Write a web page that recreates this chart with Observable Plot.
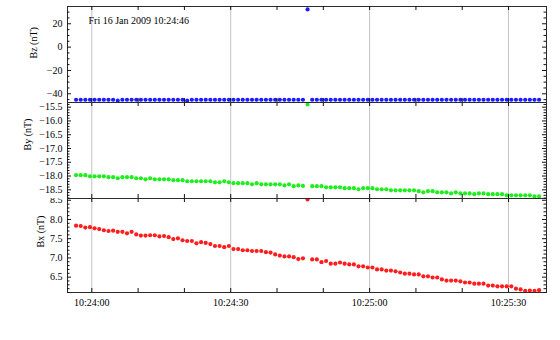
<!DOCTYPE html>
<html><head><meta charset="utf-8">
<script src="https://cdn.jsdelivr.net/npm/d3@7"></script>
<script src="https://cdn.jsdelivr.net/npm/@observablehq/plot@0.6"></script>
<style>
html,body{margin:0;padding:0;background:#fff;}
#chart{position:relative;width:560px;height:340px;overflow:hidden;}
#chart svg{position:absolute;left:0;overflow:visible;}
</style></head><body><div id="chart"></div>
<script>
const title = "Fri 16 Jan 2009 10:24:46";
const dateStr = "2009-01-16";
const startTime = "10:23:56.600";
const xDomainTimes = ["10:23:54.750", "10:25:38.200"];
const xMajorTicks = ["10:24:00", "10:24:30", "10:25:00", "10:25:30"];
const xMinorTicks = ["10:24:10", "10:24:20", "10:24:40", "10:24:50", "10:25:10", "10:25:20"];

const bz = [
-45.1,-45.1,-45.1,-45.1,-45.1,-45.1,-45.1,-45.1,-45.1,-45.9,
-45.1,-45.1,-45.1,-45.1,-45.1,-45.1,-45.1,-45.1,-45.1,-45.1,
-45.1,-45.1,-45.1,-45.1,-45.9,-45.1,-45.1,-45.1,-45.1,-45.1,
-45.1,-45.1,-45.1,-45.1,-45.1,-45.1,-45.1,-45.1,-45.1,-45.1,
-45.1,-45.1,-45.1,-45.1,-45.1,-45.1,-45.1,-45.1,-45.1,-45.1,
32.3,
-45.1,-45.1,-45.1,-45.1,-45.1,-45.1,-45.1,-45.1,-45.1,-45.1,
-45.1,-45.1,-45.1,-45.1,-45.1,-45.1,-45.1,-45.1,-45.1,-45.1,
-45.1,-45.1,-45.1,-45.1,-45.1,-45.1,-45.1,-45.1,-45.1,-45.1,
-45.1,-45.1,-45.1,-45.1,-45.1,-45.1,-45.1,-45.1,-45.1,-45.1,
-45.1,-45.1,-45.1,-45.1,-45.1,-45.1,-45.1,-45.1,-45.1,-45.1
];
const by = [
-17.97,-17.97,-17.97,-18.01,-18.01,-18.01,-18.01,-18.04,-18.04,-18.08,
-18.04,-18.04,-18.04,-18.08,-18.08,-18.12,-18.08,-18.12,-18.12,-18.12,
-18.12,-18.15,-18.15,-18.15,-18.19,-18.19,-18.19,-18.19,-18.19,-18.19,
-18.23,-18.23,-18.19,-18.23,-18.26,-18.26,-18.26,-18.26,-18.30,-18.26,
-18.30,-18.30,-18.30,-18.30,-18.30,-18.34,-18.30,-18.37,-18.34,-18.36,
-15.40,
-18.37,-18.37,-18.37,-18.41,-18.41,-18.41,-18.41,-18.44,-18.44,-18.44,
-18.48,-18.44,-18.44,-18.44,-18.48,-18.48,-18.48,-18.52,-18.52,-18.52,
-18.52,-18.52,-18.52,-18.55,-18.59,-18.55,-18.55,-18.59,-18.59,-18.59,
-18.63,-18.59,-18.63,-18.63,-18.63,-18.66,-18.63,-18.63,-18.66,-18.66,
-18.66,-18.66,-18.70,-18.70,-18.70,-18.70,-18.70,-18.70,-18.74,-18.74
];
const bx = [
7.84,7.83,7.79,7.80,7.77,7.75,7.72,7.70,7.71,7.68,
7.68,7.64,7.68,7.61,7.58,7.58,7.59,7.59,7.56,7.57,
7.54,7.49,7.51,7.46,7.44,7.44,7.38,7.41,7.39,7.36,
7.31,7.31,7.28,7.31,7.23,7.23,7.20,7.20,7.18,7.18,
7.18,7.15,7.14,7.09,7.06,7.04,7.04,7.02,6.97,6.99,
8.52,
6.96,6.96,6.89,6.92,6.85,6.85,6.88,6.85,6.83,6.83,
6.78,6.78,6.75,6.75,6.70,6.70,6.67,6.67,6.65,6.62,
6.59,6.59,6.57,6.57,6.52,6.52,6.49,6.49,6.44,6.41,
6.41,6.41,6.39,6.36,6.36,6.33,6.33,6.33,6.28,6.28,
6.26,6.26,6.26,6.26,6.20,6.18,6.14,6.15,6.14,6.16
];

const bzTicks = [-40, -20, 0, 20];
const byTicks = [-18.5, -18.0, -17.5, -17.0, -16.5, -16.0, -15.5];
const bxTicks = [6.5, 7.0, 7.5, 8.0, 8.5];
const bzDomain = [-47.46, 34.8];
const byDomain = [-18.816, -15.33];
const bxDomain = [6.10, 8.546];

const parseT = s => new Date(dateStr + "T" + s + "Z");
const t0 = parseT(startTime);
const times = bz.map((_, i) => new Date(+t0 + i * 1000));
const xMajor = xMajorTicks.map(parseT);
const xMinor = xMinorTicks.map(parseT);
const xDomain = xDomainTimes.map(parseT);

const minorOf = (domain, step, majors) =>
  d3.range(Math.ceil(domain[0] / step), Math.floor(domain[1] / step) + 1)
    .map(i => +(i * step).toFixed(4))
    .filter(v => !majors.some(m => Math.abs(m - v) < 1e-6));

const W = 560, ML = 67, MR = 14;
const PW = W - ML - MR;

function panel(o) {
  const H = o.height - o.marginTop - o.marginBottom;
  const data = o.values.map((v, i) => ({t: times[i], v}));
  const allX = xMajor.concat(xMinor);
  const minors = minorOf(o.domain, o.minorStep, o.major);
  const marks = [
    Plot.ruleX(xMajor, {x: d => d, stroke: "#c4c4c4", strokeWidth: 1}),
    Plot.dot(data, {x: "t", y: "v", r: 2.1, fill: o.color, stroke: "none"}),
    Plot.frame({stroke: "#2a2a2a"}),
    Plot.tickX(allX, {x: d => d, insetTop: H - 4, stroke: "#111"}),
    Plot.tickX(allX, {x: d => d, insetBottom: H - 4, stroke: "#111"}),
    Plot.tickY(o.major, {y: d => d, insetRight: PW - 4, stroke: "#111"}),
    Plot.tickY(o.major, {y: d => d, insetLeft: PW - 4, stroke: "#111"}),
    Plot.tickY(minors, {y: d => d, insetRight: PW - 2.5, stroke: "#111"}),
    Plot.tickY(minors, {y: d => d, insetLeft: PW - 2.5, stroke: "#111"}),
    Plot.text([o.label], {text: d => d, frameAnchor: "left", rotate: -90, dx: o.labelDx, dy: o.labelDy, fontSize: 10, fill: "#000"})
  ];
  if (o.extra) marks.push(...o.extra);
  const svg = Plot.plot({
    width: W,
    height: o.height,
    marginLeft: ML,
    marginRight: MR,
    marginTop: o.marginTop,
    marginBottom: o.marginBottom,
    style: {fontFamily: "'Liberation Serif', 'Times New Roman', serif", fontSize: "10px", background: o.bg, overflow: "visible", color: "#000"},
    x: o.showX
      ? {type: "utc", domain: xDomain, ticks: xMajor, tickSize: 0, tickPadding: 6, tickFormat: d3.utcFormat("%H:%M:%S"), label: null}
      : {type: "utc", domain: xDomain, axis: null},
    y: {domain: o.domain, ticks: o.major, tickSize: 0, tickPadding: 5, tickFormat: o.format, label: null},
    marks
  });
  svg.style.top = o.top + "px";
  return svg;
}

const chart = document.getElementById("chart");

const pC = panel({
  values: bx, color: "rgb(255,28,28)", domain: bxDomain, major: bxTicks, minorStep: 0.1,
  format: d3.format(".1f"), height: 142, marginTop: 0, marginBottom: 48, top: 198,
  label: "Bx (nT)", labelDx: -27, labelDy: 2, showX: true, bg: "transparent"
});
const pB = panel({
  values: by, color: "rgb(30,238,30)", domain: byDomain, major: byTicks, minorStep: 0.1,
  format: d3.format(".1f"), height: 96, marginTop: 0, marginBottom: 0, top: 102,
  label: "By (nT)", labelDx: -40, labelDy: 0, showX: false, bg: "white"
});
const pA = panel({
  values: bz, color: "rgb(28,28,255)", domain: bzDomain, major: bzTicks, minorStep: 5,
  format: d3.format("d"), height: 102, marginTop: 6, marginBottom: 0, top: 0,
  label: "Bz (nT)", labelDx: -34, labelDy: 4, showX: false, bg: "transparent",
  extra: [Plot.text([title], {text: d => d, frameAnchor: "top-left", dx: 21, dy: 10.5, textAnchor: "start", fontSize: 10, fill: "#000"})]
});
chart.appendChild(pC);
chart.appendChild(pB);
chart.appendChild(pA);
</script>
</body></html>
